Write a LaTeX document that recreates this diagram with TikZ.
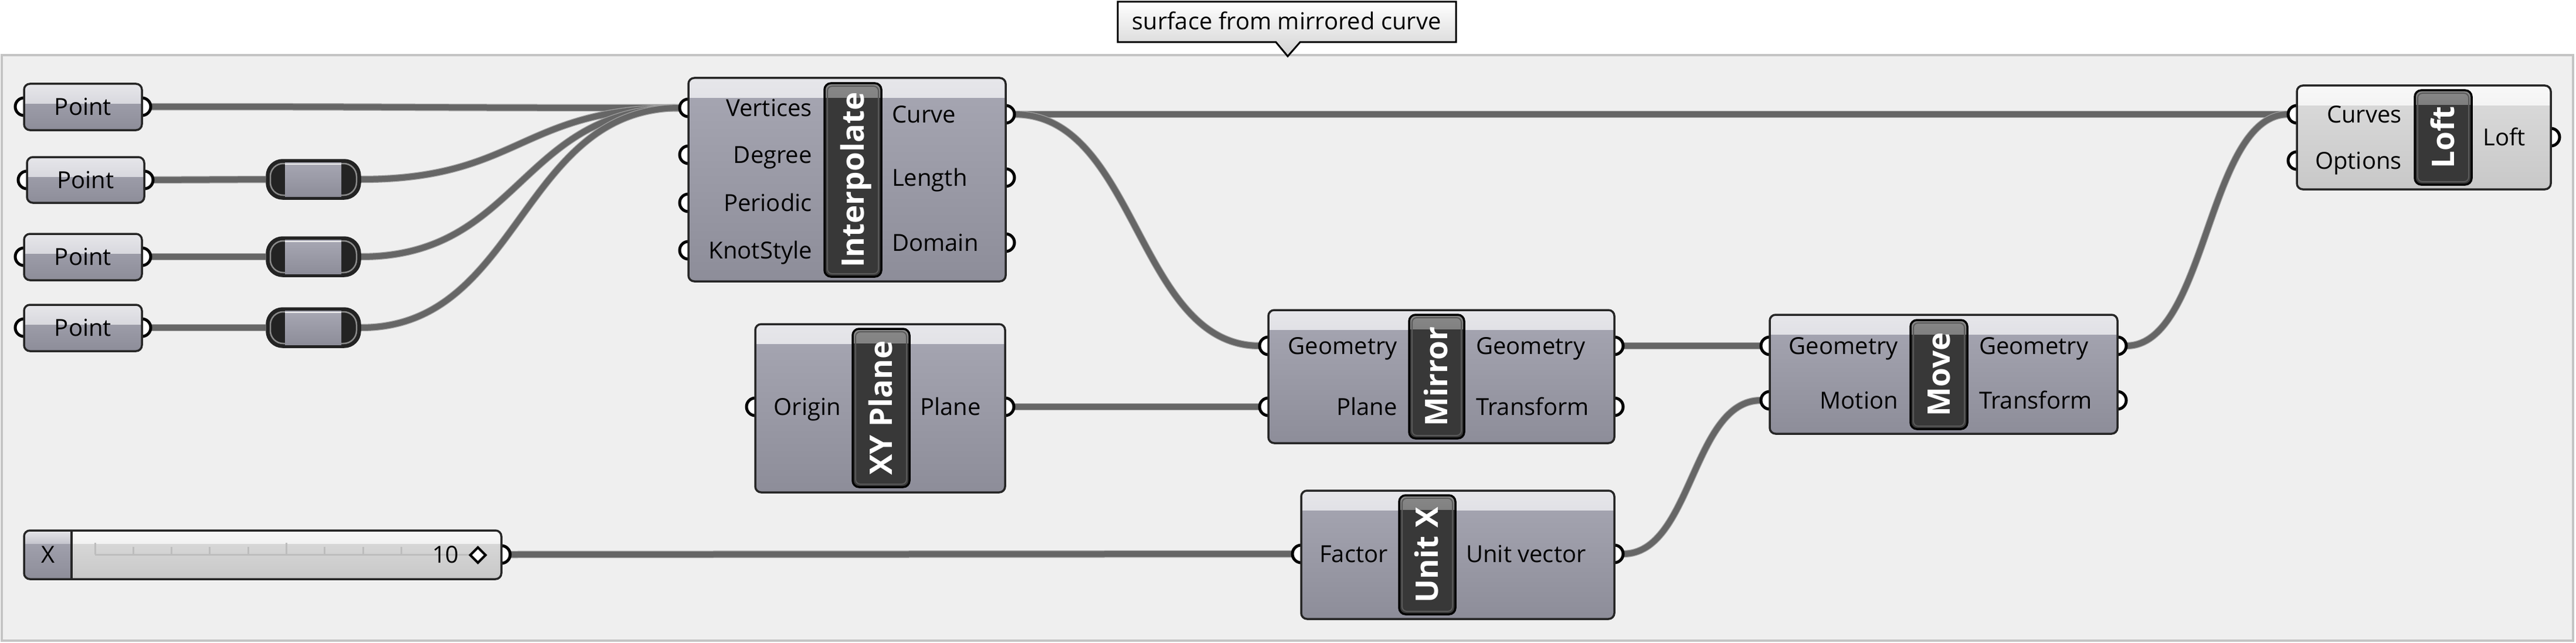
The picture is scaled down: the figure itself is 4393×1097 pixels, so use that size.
\documentclass[tikz,border=0pt]{standalone}
\usepackage{fontspec}
\setmainfont{Open Sans}
\usetikzlibrary{fit,calc}
\pgfdeclarelayer{bg}
\pgfdeclarelayer{wires}
\pgfsetlayers{bg,wires,main}
\definecolor{bodyTop}{HTML}{A7A7B3}
\definecolor{bodyBot}{HTML}{8D8D99}
\definecolor{hdrTop}{HTML}{E6E6EA}
\definecolor{hdrBot}{HTML}{C6C6CE}
\definecolor{lTop}{HTML}{DCDCDC}
\definecolor{lBot}{HTML}{C8C8C8}
\definecolor{lhTop}{HTML}{F8F8F8}
\definecolor{lhBot}{HTML}{E2E2E2}
\definecolor{compborder}{HTML}{262626}
\definecolor{barFill}{HTML}{383838}
\definecolor{barHi}{HTML}{888888}
\definecolor{barMid}{HTML}{474747}
\definecolor{barRim}{HTML}{5A5A5A}
\definecolor{grpFill}{HTML}{EFEFEF}
\definecolor{grpBorder}{HTML}{C4C4C4}
\definecolor{wireCore}{HTML}{666666}
\definecolor{wireEdge}{HTML}{A2A2A2}
\definecolor{tickc}{HTML}{BDBDBD}
\definecolor{tipBot}{HTML}{D2D2D2}
\definecolor{relayCap}{HTML}{232323}
\definecolor{relayRim}{HTML}{8A8A8A}
\newcommand\ghIn[3]{\draw[grip] (#2,#3) circle[radius=15]; \coordinate (#1) at ({#2-15},#3);}
\newcommand\ghOut[3]{\draw[grip] (#2,#3) circle[radius=15]; \coordinate (#1) at ({#2+15},#3);}
\newcommand\ghWire[2]{\draw[wire] let \p1=(#1), \p2=(#2), \n1={0.5*(\x2-\x1)} in (\p1) .. controls ([xshift={\n1*1pt}]\p1) and ([xshift={-\n1*1pt}]\p2) .. (\p2);}
\begin{document}
\begin{tikzpicture}[x=1pt,y=-1pt,
  ghbox/.style n args={4}{draw=compborder, line width=3.5pt, rounded corners=10pt, inner sep=0pt, top color=#1, bottom color=#2,
    path picture={\fill[sharp corners, top color=#3, bottom color=#4] (path picture bounding box.north west) rectangle ([yshift=-33pt]path picture bounding box.north east);}},
  comp/.style={ghbox={bodyTop}{bodyBot}{hdrTop}{hdrBot}},
  lightcomp/.style={ghbox={lTop}{lBot}{lhTop}{lhBot}},
  bar/.style={draw=black, line width=3.5pt, rounded corners=11pt, inner sep=0pt, fill=barFill,
    path picture={\fill[sharp corners, top color=barHi, bottom color=barMid] (path picture bounding box.north west) rectangle ([yshift=-24pt]path picture bounding box.north east);
      \draw[barRim, line width=2pt, rounded corners=8pt] ([shift={(5pt,-5pt)}]path picture bounding box.north west) rectangle ([shift={(-5pt,5pt)}]path picture bounding box.south east);}},
  relay/.style={draw=relayCap, line width=3.5pt, rounded corners=27pt, inner sep=0pt, fill=relayCap,
    path picture={\draw[relayRim, line width=2.5pt, rounded corners=22pt] ([shift={(6pt,-6pt)}]path picture bounding box.north west) rectangle ([shift={(-6pt,6pt)}]path picture bounding box.south east);
      \fill[sharp corners, top color=bodyTop, bottom color=bodyBot] ([xshift=31pt,yshift=-4pt]path picture bounding box.north west) rectangle ([xshift=-32pt,yshift=4pt]path picture bounding box.south east);
      \draw[sharp corners, white!85!gray, line width=2.5pt] ([xshift=31pt,yshift=-7pt]path picture bounding box.north west) -- ([xshift=-32pt,yshift=-7pt]path picture bounding box.north east);}},
  slider/.style={draw=compborder, line width=3.5pt, rounded corners=10pt, inner sep=0pt, top color=lTop, bottom color=lBot,
    path picture={\fill[sharp corners, top color=lhTop, bottom color=lhBot] (path picture bounding box.north west) rectangle ([yshift=-22pt]path picture bounding box.north east);
      \fill[sharp corners, top color=bodyTop, bottom color=bodyBot] (path picture bounding box.north west) rectangle ([xshift=81pt]path picture bounding box.south west);
      \fill[sharp corners, top color=hdrTop, bottom color=hdrBot] (path picture bounding box.north west) rectangle ([xshift=81pt,yshift=-22pt]path picture bounding box.north west);
      \draw[sharp corners, compborder, line width=3.5pt] ([xshift=81pt]path picture bounding box.north west) -- ([xshift=81pt]path picture bounding box.south west);}},
  grip/.style={draw=black, line width=5pt, fill=white},
  wire/.style={draw=wireCore, line width=10pt, preaction={draw=wireEdge, line width=12.5pt}},
  lbl/.style={inner sep=0pt, font=\fontsize{40}{48}\selectfont},
  inl/.style={lbl, anchor=base east},
  outl/.style={lbl, anchor=base west},
  bart/.style={inner sep=0pt, text=white, font=\fontsize{53}{64}\selectfont\bfseries, rotate=90, anchor=base},
  tick/.style={draw=tickc, line width=3pt}
]
\useasboundingbox (0,0) rectangle (4393,1097);
\begin{pgfonlayer}{bg}
  \fill[white] (0,0) rectangle (4393,1097);
  \path[fill=grpFill, draw=grpBorder, line width=4pt] (3,94) rectangle (4388,1093);
\end{pgfonlayer}

% tooltip
\path[top color=white, bottom color=tipBot, draw=black, line width=3pt] (1906,3) -- (2483,3) -- (2483,72) -- (2217,72) -- (2196,96) -- (2176,72) -- (1906,72) -- cycle;
\node[lbl, anchor=base] (tip) at (2194,51) {surface from mirrored curve};

% Point parameters
\ghIn{p1i}{41}{182}\ghOut{p1o}{242}{182}
\node[comp, fit={(41,143) (242,222)}] (p1) {};
\node[lbl, anchor=base] (p1t) at (141.5,196) {Point};
\ghIn{p2i}{46}{307}\ghOut{p2o}{246}{307}
\node[comp, fit={(46,268) (246,346)}] (p2) {};
\node[lbl, anchor=base] (p2t) at (146,321) {Point};
\ghIn{p3i}{41}{438}\ghOut{p3o}{242}{438}
\node[comp, fit={(41,399) (242,478)}] (p3) {};
\node[lbl, anchor=base] (p3t) at (141.5,452) {Point};
\ghIn{p4i}{41}{559}\ghOut{p4o}{242}{559}
\node[comp, fit={(41,520) (242,599)}] (p4) {};
\node[lbl, anchor=base] (p4t) at (141.5,573) {Point};

% relays
\node[relay, fit={(455,273) (614,339)}] (r1) {};
\node[relay, fit={(455,405) (614,471)}] (r2) {};
\node[relay, fit={(455,526) (614,592)}] (r3) {};

% Interpolate
\ghIn{iv}{1174}{184}\ghIn{idg}{1174}{264}\ghIn{ipe}{1174}{346}\ghIn{iks}{1174}{427}
\ghOut{icu}{1715}{195}\ghOut{ile}{1715}{303}\ghOut{ido}{1715}{414}
\node[comp, fit={(1174,133) (1715,480)}] (interp) {};
\node[bar, fit={(1406,142) (1503,472)}] (interpbar) {};
\node[bart] (interpT) at (1473,307) {Interpolate};
\node[inl] (ivt) at (1385,198) {Vertices};
\node[inl] (idgt) at (1385,278) {Degree};
\node[inl] (ipet) at (1385,360) {Periodic};
\node[inl] (ikst) at (1385,441) {KnotStyle};
\node[outl] (icut) at (1521,209) {Curve};
\node[outl] (ilet) at (1521,317) {Length};
\node[outl] (idot) at (1521,428) {Domain};

% XY Plane
\ghIn{xo}{1288}{694}\ghOut{xp}{1714}{694}
\node[comp, fit={(1288,553) (1714,840)}] (xy) {};
\node[bar, fit={(1454,561) (1551,831)}] (xybar) {};
\node[bart] (xyT) at (1521,696) {XY Plane};
\node[inl] (xot) at (1434,708) {Origin};
\node[outl] (xpt) at (1569,708) {Plane};

% Mirror
\ghIn{mgi}{2163}{590}\ghIn{mpi}{2163}{694}
\ghOut{mgo}{2753}{590}\ghOut{mto}{2753}{694}
\node[comp, fit={(2163,529) (2753,756)}] (mirror) {};
\node[bar, fit={(2403,537) (2497,748)}] (mirrorbar) {};
\node[bart] (mirrorT) at (2468.5,642.5) {Mirror};
\node[inl] (mgit) at (2383,604) {Geometry};
\node[inl] (mpit) at (2383,708) {Plane};
\node[outl] (mgot) at (2517,604) {Geometry};
\node[outl] (mtot) at (2517,708) {Transform};

% Move
\ghIn{vgi}{3018}{590}\ghIn{vmi}{3018}{683}
\ghOut{vgo}{3611}{590}\ghOut{vto}{3611}{683}
\node[comp, fit={(3018,537) (3611,740)}] (move) {};
\node[bar, fit={(3258,546) (3355,732)}] (movebar) {};
\node[bart] (moveT) at (3325,639) {Move};
\node[inl] (vgit) at (3237,604) {Geometry};
\node[inl] (vmit) at (3237,697) {Motion};
\node[outl] (vgot) at (3375,604) {Geometry};
\node[outl] (vtot) at (3375,697) {Transform};

% Unit X
\ghIn{uf}{2219}{945}\ghOut{uv}{2753}{945}
\node[comp, fit={(2219,837) (2753,1056)}] (unitx) {};
\node[bar, fit={(2386,845) (2482,1048)}] (unitxbar) {};
\node[bart] (unitxT) at (2452.5,946.5) {Unit X};
\node[inl] (uft) at (2367,959) {Factor};
\node[outl] (uvt) at (2500,959) {Unit vector};

% Loft
\ghIn{lc}{3917}{195}\ghIn{lop}{3917}{274}\ghOut{lo}{4350}{234}
\node[lightcomp, fit={(3917,146) (4350,323)}] (loft) {};
\node[bar, fit={(4118,154) (4215,315)}] (loftbar) {};
\node[bart] (loftT) at (4185,234.5) {Loft};
\node[inl] (lct) at (4096,209) {Curves};
\node[inl] (lopt) at (4096,288) {Options};
\node[outl] (lot) at (4234,248) {Loft};

% Slider
\ghOut{so}{855}{946}
\node[slider, fit={(41,905) (855,988)}] (slider) {};
\draw[tick] (162,946) -- (800,946);
\foreach \k in {0,5} {\draw[tick] ({162+65.3*\k},926) -- ({162+65.3*\k},946);}
\foreach \k in {1,2,3,4,6,7,8} {\draw[tick] ({162+65.3*\k},933) -- ({162+65.3*\k},946);}
\node[lbl, anchor=base] (sx) at (82,960) {X};
\node[lbl, anchor=base east] (sval) at (783,960) {10};
\draw[black, line width=4pt, fill=white, line join=miter] (815,934) -- (828,947) -- (815,960) -- (802,947) -- cycle;

% wires
\begin{pgfonlayer}{wires}
  \ghWire{p1o}{iv}
  \ghWire{p2o}{r1.west}
  \ghWire{r1.east}{iv}
  \ghWire{p3o}{r2.west}
  \ghWire{r2.east}{iv}
  \ghWire{p4o}{r3.west}
  \ghWire{r3.east}{iv}
  \ghWire{icu}{lc}
  \ghWire{icu}{mgi}
  \ghWire{xp}{mpi}
  \ghWire{mgo}{vgi}
  \ghWire{vgo}{lc}
  \ghWire{so}{uf}
  \ghWire{uv}{vmi}
\end{pgfonlayer}
\end{tikzpicture}
\end{document}
